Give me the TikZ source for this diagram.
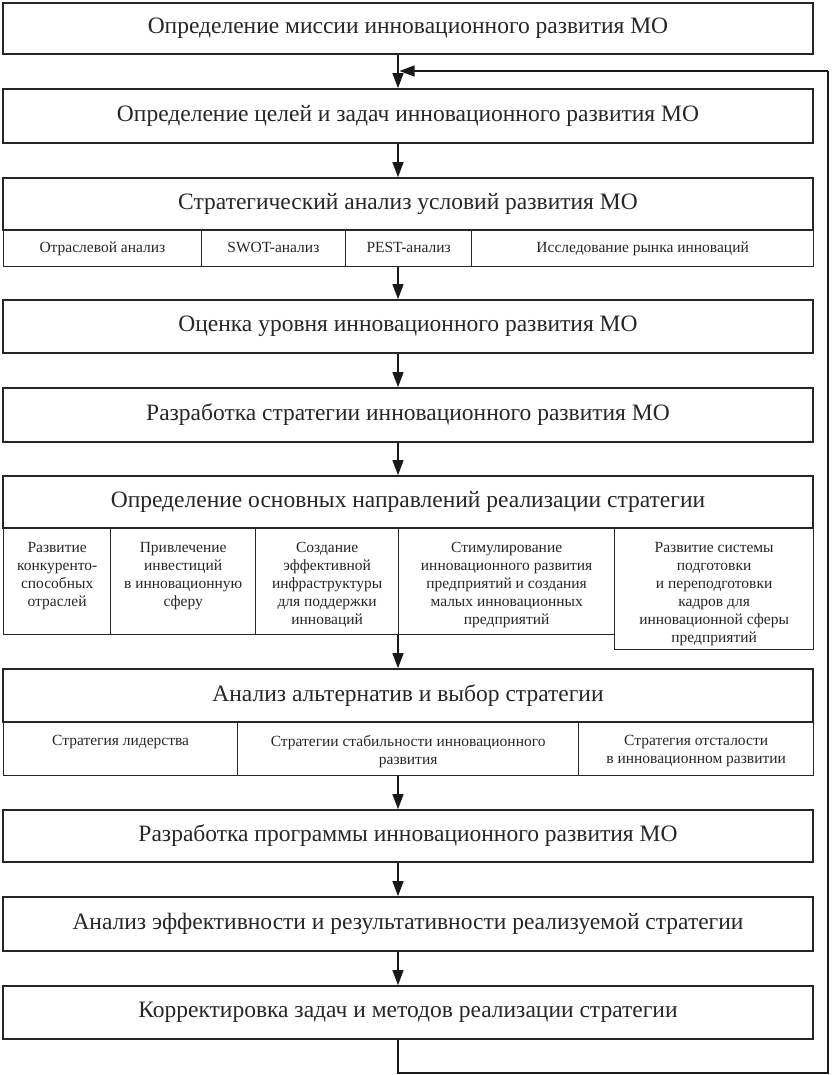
\documentclass[tikz,border=0pt]{standalone}
\usepackage{fontspec}
\setmainfont{Liberation Serif}
\usetikzlibrary{arrows.meta}
\newcommand{\mycell}[4]{\parbox[c][#2pt][t]{#1pt}{\centering\vspace*{#3pt}#4\par}}
\begin{document}
\begin{tikzpicture}[x=1pt,y=-1pt,
  mainbox/.style={draw=black!85,line width=1.7pt,minimum width=810pt,inner sep=0pt,
    font=\fontsize{23.5}{28}\selectfont,text=black!85},
  subcell/.style={draw=black!85,line width=1.3pt,inner sep=0pt,anchor=north west,
    font=\fontsize{15.5}{18}\selectfont,text=black!85},
  rowcell/.style={subcell,minimum height=36pt,text height=11pt,text depth=3.5pt},
  arr/.style={line width=1.3pt,draw=black!90,-{Triangle[length=15pt,width=11pt]}},
  loopline/.style={line width=1.3pt,draw=black!90}]
\useasboundingbox (0,0) rectangle (832,1075);
\coordinate (ax) at (398,0);
% main boxes
\node[mainbox,minimum height=51pt] (b1) at (408,28.5) {Определение миссии инновационного развития МО};
\node[mainbox,minimum height=54pt] (b2) at (408,116) {Определение целей и задач инновационного развития МО};
\node[mainbox,minimum height=52pt] (b3) at (408,204) {Стратегический анализ условий развития МО};
\node[rowcell,minimum width=197.5pt] (s31) at (3,230) {Отраслевой анализ};
\node[rowcell,minimum width=144.5pt] (s32) at (200.5,230) {SWOT-анализ};
\node[rowcell,minimum width=126pt] (s33) at (345,230) {PEST-анализ};
\node[rowcell,minimum width=342pt] (s34) at (471,230) {Исследование рынка инноваций};
\node[mainbox,minimum height=53pt] (b4) at (408,326.5) {Оценка уровня инновационного развития МО};
\node[mainbox,minimum height=54pt] (b5) at (408,415) {Разработка стратегии инновационного развития МО};
\node[mainbox,minimum height=52pt] (b6) at (408,502) {Определение основных направлений реализации стратегии};
\node[subcell] (c1) at (3,528) {\mycell{107}{106}{14}{Развитие\\конкуренто-\\способных\\отраслей}};
\node[subcell] (c2) at (110,528) {\mycell{145}{106}{14}{Привлечение\\инвестиций\\в инновационную\\сферу}};
\node[subcell] (c3) at (255,528) {\mycell{143}{106}{14}{Создание\\эффективной\\инфраструктуры\\для поддержки\\инноваций}};
\node[subcell] (c4) at (398,528) {\mycell{216}{106}{14}{Стимулирование\\инновационного развития\\предприятий и создания\\малых инновационных\\предприятий}};
\node[subcell] (c5) at (614,528) {\mycell{199}{121}{14}{Развитие системы\\подготовки\\и переподготовки\\кадров для\\инновационной сферы\\предприятий}};
\node[mainbox,minimum height=53pt] (b7) at (408,695.5) {Анализ альтернатив и выбор стратегии};
\node[subcell] (a1) at (3,722) {\mycell{234}{53}{13}{Стратегия лидерства}};
\node[subcell] (a2) at (237,722) {\mycell{341}{53}{13}{Стратегии стабильности инновационного\\развития}};
\node[subcell] (a3) at (578,722) {\mycell{235}{53}{13}{Стратегия отсталости\\в инновационном развитии}};
\node[mainbox,minimum height=52pt] (b8) at (408,836) {Разработка программы инновационного развития МО};
\node[mainbox,minimum height=54pt] (b9) at (408,924) {Анализ эффективности и результативности реализуемой стратегии};
\node[mainbox,minimum height=53pt] (b10) at (408,1012.5) {Корректировка задач и методов реализации стратегии};
% arrows
\draw[arr] (b1.south -| ax) -- (b2.north -| ax);
\draw[arr] (b2.south -| ax) -- (b3.north -| ax);
\draw[arr] (s34.south -| ax) -- (b4.north -| ax);
\draw[arr] (b4.south -| ax) -- (b5.north -| ax);
\draw[arr] (b5.south -| ax) -- (b6.north -| ax);
\draw[arr] (c4.south west) -- (b7.north -| ax);
\draw[arr] (a2.south -| ax) -- (b8.north -| ax);
\draw[arr] (b8.south -| ax) -- (b9.north -| ax);
\draw[arr] (b9.south -| ax) -- (b10.north -| ax);
% feedback loop
\coordinate (lb) at (398,1073);
\coordinate (rb) at (828,1073);
\coordinate (rt) at (828,71);
\coordinate (jt) at (399.5,71);
\draw[loopline] (b10.south -| ax) -- (lb) -- (rb) -- (rt);
\draw[arr] (rt) -- (jt);
\end{tikzpicture}
\end{document}
